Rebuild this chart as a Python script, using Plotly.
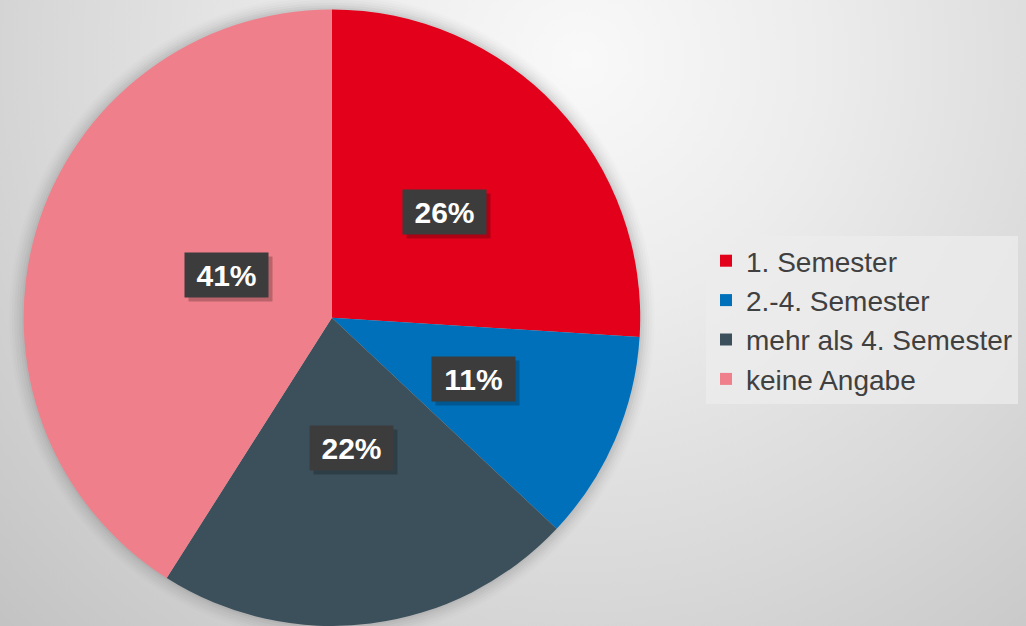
import math
import base64
import plotly.graph_objects as go

# ---- data ----
categories = ["1. Semester", "2.-4. Semester", "mehr als 4. Semester", "keine Angabe"]
shares = [26, 11, 22, 41]
slice_colors = ["#E2001A", "#0070BA", "#3C505C", "#EF7F8A"]

W, H = 1026, 626
FONT = "Liberation Sans, Arial, sans-serif"

# pie placement (paper domain)
dom_x = [0.0, 0.647]
dom_y = [0.0, 0.985]

fig = go.Figure()
fig.add_trace(go.Pie(
    labels=categories,
    values=shares,
    marker=dict(colors=slice_colors, line=dict(width=0)),
    sort=False,
    direction="clockwise",
    rotation=0,
    textinfo="none",
    hoverinfo="label+percent",
    domain=dict(x=dom_x, y=dom_y),
    showlegend=True,
))

# geometry of the pie in pixels (derived from domain)
dw = (dom_x[1] - dom_x[0]) * W
dh = (dom_y[1] - dom_y[0]) * H
r_px = min(dw, dh) / 2
cx_px = (dom_x[0] * W + dom_x[1] * W) / 2
cy_px = H - (dom_y[0] * H + dom_y[1] * H) / 2  # from top

# label boxes placed at half radius along each slice's mid-angle
total = sum(shares)
annotations = []
cum = 0
for v in shares:
    mid = (cum + v / 2) / total * 2 * math.pi
    cum += v
    px = cx_px + 0.5 * r_px * math.sin(mid)
    py = cy_px - 0.5 * r_px * math.cos(mid)
    xp = px / W
    yp = 1 - py / H
    txt = f"<b>{round(v / total * 100)}%</b>"
    annotations.append(dict(
        x=xp, y=yp, xref="paper", yref="paper", text="&nbsp;", showarrow=False,
        font=dict(family=FONT, size=10, color="rgba(0,0,0,0)"),
        bgcolor="rgba(0,0,0,0.22)", width=83, height=44, borderpad=0,
        xshift=4, yshift=-4,
    ))
    annotations.append(dict(
        x=xp, y=yp, xref="paper", yref="paper", text=txt, showarrow=False,
        font=dict(family=FONT, size=30, color="#ffffff"),
        bgcolor="#3c3c3c", width=83, height=44, borderpad=0,
    ))

# soft halo around the pie
shapes = []
for i, a in enumerate([0.035, 0.03, 0.025, 0.02, 0.015, 0.01]):
    rr = r_px + 2 + 2.5 * i
    shapes.append(dict(
        type="circle", xref="paper", yref="paper", layer="below",
        x0=(cx_px - rr) / W, x1=(cx_px + rr) / W,
        y0=1 - (cy_px + rr) / H, y1=1 - (cy_px - rr) / H,
        fillcolor=f"rgba(0,0,0,{a})", line=dict(width=0),
    ))

# background radial gradient
svg = f'''<svg xmlns="http://www.w3.org/2000/svg" width="{W}" height="{H}">
<defs><radialGradient id="g" gradientUnits="userSpaceOnUse" cx="580" cy="60" r="820">
<stop offset="0" stop-color="#f9f9f9"/>
<stop offset="0.3" stop-color="#ececec"/>
<stop offset="0.65" stop-color="#d8d8d8"/>
<stop offset="1" stop-color="#c2c2c2"/>
</radialGradient></defs>
<rect width="{W}" height="{H}" fill="url(#g)"/>
</svg>'''
bg_src = "data:image/svg+xml;base64," + base64.b64encode(svg.encode()).decode()

fig.update_layout(
    width=W, height=H,
    margin=dict(l=0, r=0, t=0, b=0),
    paper_bgcolor="#d8d8d8",
    plot_bgcolor="rgba(0,0,0,0)",
    images=[dict(source=bg_src, xref="paper", yref="paper", x=0, y=1,
                 sizex=1, sizey=1, sizing="stretch", layer="below",
                 xanchor="left", yanchor="top")],
    shapes=shapes,
    annotations=annotations,
    legend=dict(
        x=706 / W, y=1 - 236 / H, xanchor="left", yanchor="top",
        bgcolor="rgba(236,236,236,0.75)",
        font=dict(family=FONT, size=28, color="#404040"),
        itemclick=False, itemdoubleclick=False,
    ),
)

fig.write_html(
    "out.html",
    config={"displayModeBar": False},
    post_script="document.body.style.margin='0';document.body.style.overflow='hidden';",
)
